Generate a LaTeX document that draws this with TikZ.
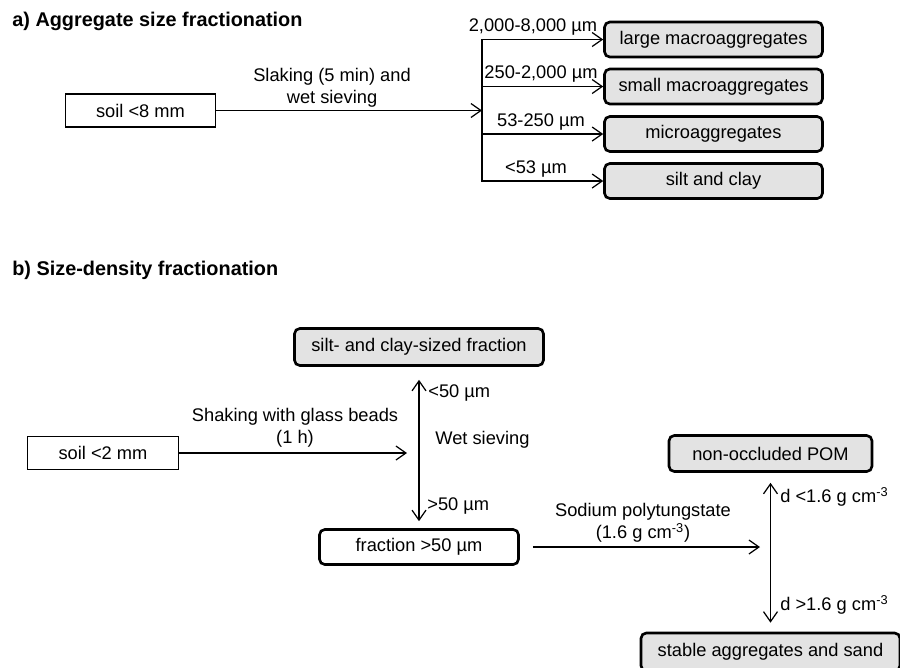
\documentclass[tikz,border=0pt]{standalone}
\usepackage{fontspec}
\setmainfont{Liberation Sans}
\usetikzlibrary{arrows.meta}

\tikzset{
    txt/.style={font=\fontsize{10.4}{12.4}\selectfont,inner sep=0pt},
    heading/.style={font=\fontsize{11.3}{13.5}\selectfont\bfseries,inner sep=0pt,anchor=base west},
    plainbox/.style={txt,draw,line width=0.7pt,fill=white,minimum height=0.66cm},
    graybox/.style={txt,draw,line width=1.5pt,rounded corners=3pt,fill=black!11,minimum width=4.36cm,minimum height=0.70cm},
    roundbox/.style={txt,draw,line width=1.5pt,rounded corners=3pt,fill=white,minimum height=0.70cm},
    flow/.style={line width=0.7pt,-{Straight Barb[length=0.2cm,width=0.28cm]}},
    split/.style={line width=0.7pt,{Straight Barb[length=0.2cm,width=0.28cm]}-{Straight Barb[length=0.2cm,width=0.28cm]}}
}

\begin{document}
\begin{tikzpicture}[x=0.02cm,y=-0.02cm]
    \useasboundingbox (0,0) rectangle (900,667);

    \node[heading] (titlea) at (12,26) {a) Aggregate size fractionation};
    \node[plainbox,minimum width=3.0cm] (soil8) at (140.5,110.5) {soil <8 mm};
    \coordinate (fork) at (482,110.5);
    \draw[flow] (soil8) -- (fork);
    \node[txt,align=center] (slaking) at (332,88) {Slaking (5 min) and\\wet sieving};
    \node[graybox] (large) at (713.5,39.5) {large macroaggregates};
    \node[graybox] (small) at (713.5,86.5) {small macroaggregates};
    \node[graybox] (micro) at (713.5,134) {microaggregates};
    \node[graybox] (siltclay) at (713.5,181) {silt and clay};
    \draw[flow] (fork) |- (large);
    \draw[flow] (fork) |- (small);
    \draw[flow] (fork) |- (micro);
    \draw[flow] (fork) |- (siltclay);
    \node[txt] (largelbl) at (533,27) {2,000-8,000 µm};
    \node[txt] (smalllbl) at (541,74) {250-2,000 µm};
    \node[txt] (microlbl) at (541,122) {53-250 µm};
    \node[txt] (siltlbl) at (536,169) {<53 µm};

    \node[heading] (titleb) at (12,275) {b) Size-density fractionation};
    \node[plainbox,minimum width=3.02cm] (soil2) at (103,453) {soil <2 mm};
    \coordinate (shake) at (407,453);
    \draw[flow] (soil2) -- (shake);
    \node[txt,align=center] (shaking) at (295,428) {Shaking with glass beads\\(1 h)};
    \node[graybox,minimum width=4.98cm,minimum height=0.74cm] (siltclayfr) at (419,347) {silt- and clay-sized fraction};
    \node[roundbox,minimum width=3.98cm] (frac50) at (419,547) {fraction >50 µm};
    \draw[split,shorten <=0.26cm,shorten >=0.14cm] (siltclayfr) -- (frac50);
    \node[txt,anchor=west] (lt50) at (428,393) {<50 µm};
    \node[txt,anchor=west] (wetsieve) at (435,440) {Wet sieving};
    \node[txt,anchor=west] (gt50) at (427,506) {>50 µm};

    \coordinate (dens) at (760,547);
    \draw[flow,shorten <=0.26cm] (frac50) -- (dens);
    \node[txt,align=center] (spt) at (643,523) {Sodium polytungstate\\(1.6 g cm\textsuperscript{-3})};
    \node[graybox,minimum width=4.06cm,minimum height=0.72cm] (pom) at (770.5,453.5) {non-occluded POM};
    \node[graybox,minimum width=5.18cm,minimum height=0.76cm] (stable) at (770.5,652) {stable aggregates and sand};
    \draw[split,shorten <=0.2cm,shorten >=0.18cm] (pom) -- (stable);
    \node[txt,anchor=west] (light) at (780,497) {d <1.6 g cm\textsuperscript{-3}};
    \node[txt,anchor=west] (heavy) at (780,605) {d >1.6 g cm\textsuperscript{-3}};
\end{tikzpicture}
\end{document}
